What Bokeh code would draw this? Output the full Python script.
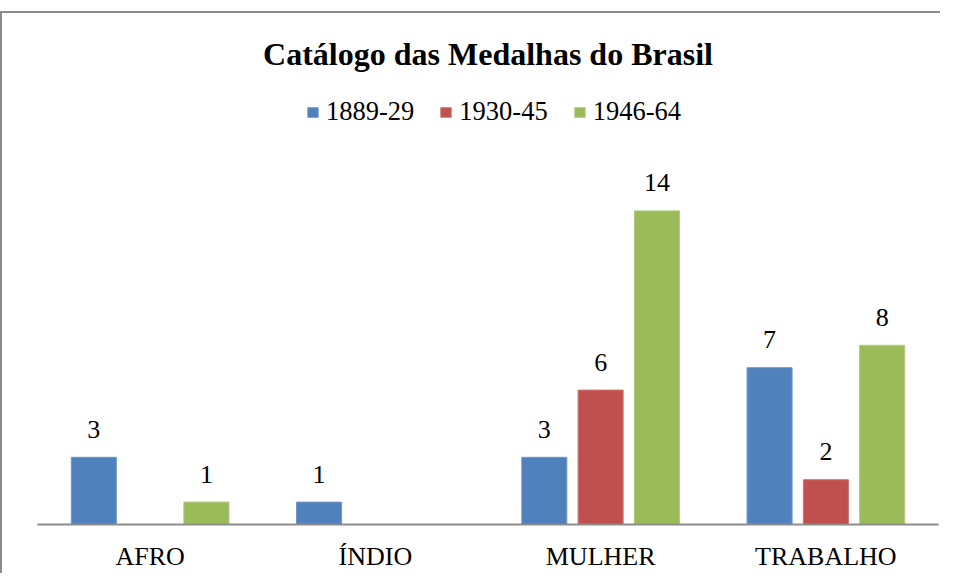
from bokeh.plotting import figure
from bokeh.models import ColumnDataSource, FactorRange, Range1d, Legend, LegendItem
from bokeh.transform import dodge
from bokeh.core.properties import value
from bokeh.embed import file_html
from bokeh.resources import INLINE

categories = ["AFRO", "ÍNDIO", "MULHER", "TRABALHO"]
series_names = ["1889-29", "1930-45", "1946-64"]
s1889_29 = [3, 1, 3, 7]
s1930_45 = [0, 0, 6, 2]
s1946_64 = [1, 0, 14, 8]
colors = ["#4F81BD", "#C0504D", "#9BBB59"]
edges = ["#6f97c9", "#cf7370", "#b0c97e"]
offsets = [-0.25, 0.0, 0.25]

FONT = "Liberation Serif"
PX_PER_UNIT = 22.4
FRAME_H = 431

p = figure(x_range=FactorRange(*categories, range_padding=0),
           y_range=Range1d(0, FRAME_H / PX_PER_UNIT),
           width=940, height=562, output_backend="svg", toolbar_location=None,
           title="Catálogo das Medalhas do Brasil",
           min_border_left=35, min_border_right=4, min_border_top=80, min_border_bottom=51,
           margin=(11, 0, 0, 0),
           styles={"border-left": "2px solid #8c8c8c", "border-top": "2px solid #8c8c8c"})
p.outline_line_color = None
p.background_fill_color = "white"
p.border_fill_color = "white"
p.title.align = "center"
p.title.vertical_align = "top"
p.title.text_font = FONT
p.title.text_font_size = "32px"
p.title.text_font_style = "bold"
p.title.text_color = "black"
p.title.standoff = 40

p.xgrid.visible = False
p.ygrid.visible = False
p.yaxis.visible = False
p.xaxis.axis_line_color = "#8c8c8c"
p.xaxis.axis_line_width = 2
p.xaxis.major_tick_line_color = None
p.xaxis.minor_tick_line_color = None
p.xaxis.major_label_text_font = FONT
p.xaxis.major_label_text_font_size = "26px"
p.xaxis.major_label_text_color = "black"
p.xaxis.major_label_standoff = 11

items = []
for name, vals, col, edge, off in zip(series_names, [s1889_29, s1930_45, s1946_64], colors, edges, offsets):
    src = ColumnDataSource(dict(cat=categories, v=vals))
    r = p.vbar(x=dodge("cat", off, range=p.x_range), top="v", width=0.2, source=src,
               fill_color=col, line_color=edge, line_width=1)
    items.append(LegendItem(label=name, renderers=[r]))
    lc = [c for c, v in zip(categories, vals) if v != 0]
    lv = [v for v in vals if v != 0]
    lsrc = ColumnDataSource(dict(cat=lc, v=lv, t=[str(v) for v in lv]))
    p.text(x=dodge("cat", off, range=p.x_range), y="v", text="t", source=lsrc,
           text_align="center", text_baseline="alphabetic", y_offset=-28,
           text_font=value(FONT), text_font_size="26px", text_color="black")

legend = Legend(items=items, orientation="horizontal", location=(269, 397),
                glyph_width=13, glyph_height=12, label_standoff=7, spacing=25,
                padding=0, margin=0, border_line_color=None, background_fill_alpha=0,
                label_text_font=FONT, label_text_font_size="26.5px", label_text_color="black")
p.add_layout(legend)

open("out.html", "w").write(file_html(p, INLINE))
